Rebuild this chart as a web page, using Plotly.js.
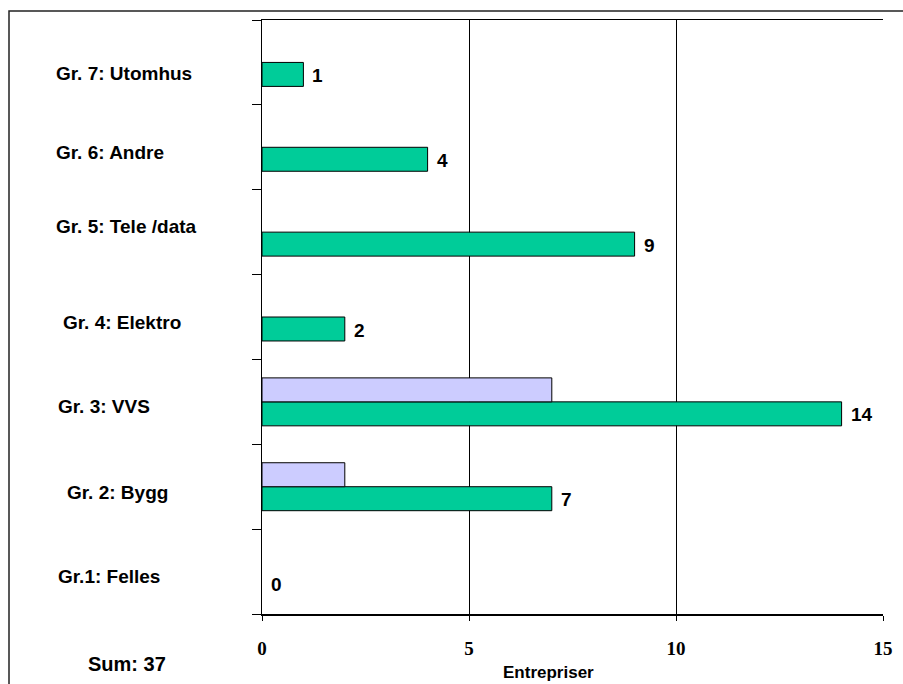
<!DOCTYPE html>
<html>
<head>
<meta charset="utf-8">
<script src="https://cdn.plot.ly/plotly-3.0.1.min.js"></script>
<style>html,body{margin:0;padding:0;background:#fff;}#chart{width:903px;height:684px;}</style>
</head>
<body>
<div id="chart"></div>
<script>
const categories = ["Gr.1: Felles", "Gr. 2: Bygg", "Gr. 3: VVS", "Gr. 4: Elektro", "Gr. 5: Tele /data", "Gr. 6: Andre", "Gr. 7: Utomhus"];
const entrepriser = [0, 7, 14, 2, 9, 4, 1];
const andre = [0, 2, 7, 0, 0, 0, 0];
const xTicks = [0, 5, 10, 15];
const xTitle = "Entrepriser";
const sumLabel = "Sum: 37";

// label placement tweaks (layout only)
const labelLeftPx = [56, 65, 56, 61, 54, 54, 54];
const labelShiftPx = [-5, -6, -5, -5, 6, -5, -11];

const W = 903, H = 684, L = 262, R = 20, T = 20, B = 70;
const pw = W - L - R, ph = H - T - B;
const px2x = p => (p - L) / pw;
const py2y = p => (H - B - p) / ph;

const lineW = v => v.map(d => d === 0 ? 0 : 1);

const traces = [
  {type: 'bar', orientation: 'h', y: categories, x: entrepriser,
   marker: {color: '#00CC99', line: {color: '#000', width: lineW(entrepriser)}}, hoverinfo: 'none'},
  {type: 'bar', orientation: 'h', y: categories, x: andre,
   marker: {color: '#CCCCFF', line: {color: '#000', width: lineW(andre)}}, hoverinfo: 'none'}
];

const annotations = [];
categories.forEach((c, i) => {
  annotations.push({xref: 'paper', yref: 'y', x: px2x(labelLeftPx[i]), y: c, xanchor: 'left', yanchor: 'middle',
    yshift: labelShiftPx[i], showarrow: false, text: '<b>' + c + '</b>',
    font: {family: 'Liberation Sans, Arial', size: 19, color: '#000'}});
  annotations.push({xref: 'x', yref: 'y', x: entrepriser[i], y: c, xanchor: 'left', yanchor: 'middle',
    xshift: 7, yshift: -13, showarrow: false, text: '<b>' + entrepriser[i] + '</b>',
    font: {family: 'Liberation Sans, Arial', size: 19, color: '#000'}});
});
annotations.push({xref: 'paper', yref: 'paper', x: px2x(548), y: py2y(672), xanchor: 'center', yanchor: 'middle',
  showarrow: false, text: '<b>' + xTitle + '</b>', font: {family: 'Liberation Sans, Arial', size: 17, color: '#000'}});
annotations.push({xref: 'paper', yref: 'paper', x: px2x(86), y: py2y(664), xanchor: 'left', yanchor: 'middle',
  showarrow: false, text: '<b>' + sumLabel + '</b>', font: {family: 'Liberation Sans, Arial', size: 20, color: '#000'}});

const layout = {
  width: W, height: H,
  margin: {l: L, r: R, t: T, b: B, pad: 0},
  paper_bgcolor: '#fff', plot_bgcolor: '#fff',
  showlegend: false,
  barmode: 'group', bargap: 0.435, bargroupgap: 0,
  xaxis: {range: [0, 15], tickvals: xTicks, ticktext: xTicks.map(String),
    showgrid: true, gridcolor: '#000', gridwidth: 1, zeroline: false,
    showline: true, linecolor: '#000', linewidth: 1.5, mirror: true,
    ticks: 'outside', ticklen: 5, tickcolor: '#000', ticklabelstandoff: 12,
    tickfont: {family: 'Liberation Serif, Times New Roman', size: 19, color: '#000', weight: 'bold'},
    fixedrange: true},
  yaxis: {type: 'category', categoryorder: 'array', categoryarray: categories,
    tickson: 'boundaries', ticks: 'outside', ticklen: 9, tickcolor: '#000',
    showticklabels: false, showgrid: false, zeroline: false,
    showline: true, linecolor: '#000', linewidth: 1.5, fixedrange: true},
  annotations: annotations,
  shapes: [
    {type: 'rect', xref: 'paper', yref: 'paper', x0: px2x(9), x1: px2x(930), y0: py2y(720), y1: py2y(11),
     line: {color: '#222', width: 1.5}, fillcolor: 'rgba(0,0,0,0)', layer: 'above'}
  ]
};

Plotly.newPlot('chart', traces, layout, {displayModeBar: false, staticPlot: true});
</script>
</body>
</html>
